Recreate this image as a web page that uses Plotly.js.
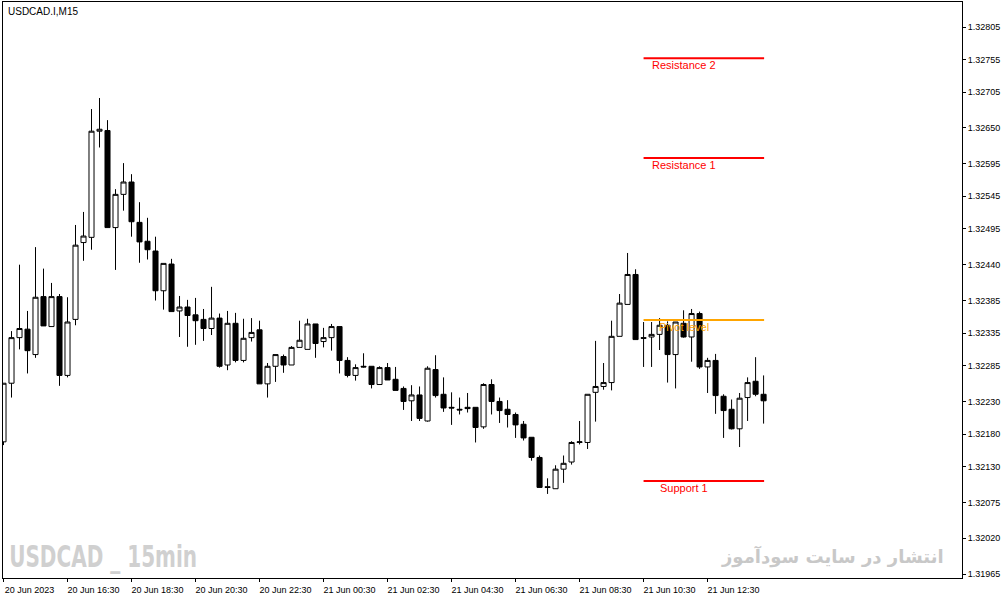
<!DOCTYPE html>
<html><head><meta charset="utf-8">
<script src="https://cdn.plot.ly/plotly-3.0.1.min.js"></script>
<style>html,body{margin:0;padding:0;background:#fff;}#chart{width:1007px;height:599px;}</style>
</head><body><div id="chart"></div>
<script>
const times = [
'2023-06-20 14:30','2023-06-20 14:45','2023-06-20 15:00','2023-06-20 15:15','2023-06-20 15:30','2023-06-20 15:45',
'2023-06-20 16:00','2023-06-20 16:15','2023-06-20 16:30','2023-06-20 16:45','2023-06-20 17:00','2023-06-20 17:15',
'2023-06-20 17:30','2023-06-20 17:45','2023-06-20 18:00','2023-06-20 18:15','2023-06-20 18:30','2023-06-20 18:45',
'2023-06-20 19:00','2023-06-20 19:15','2023-06-20 19:30','2023-06-20 19:45','2023-06-20 20:00','2023-06-20 20:15',
'2023-06-20 20:30','2023-06-20 20:45','2023-06-20 21:00','2023-06-20 21:15','2023-06-20 21:30','2023-06-20 21:45',
'2023-06-20 22:00','2023-06-20 22:15','2023-06-20 22:30','2023-06-20 22:45','2023-06-20 23:00','2023-06-20 23:15',
'2023-06-20 23:30','2023-06-20 23:45','2023-06-21 00:00','2023-06-21 00:15','2023-06-21 00:30','2023-06-21 00:45',
'2023-06-21 01:00','2023-06-21 01:15','2023-06-21 01:30','2023-06-21 01:45','2023-06-21 02:00','2023-06-21 02:15',
'2023-06-21 02:30','2023-06-21 02:45','2023-06-21 03:00','2023-06-21 03:15','2023-06-21 03:30','2023-06-21 03:45',
'2023-06-21 04:00','2023-06-21 04:15','2023-06-21 04:30','2023-06-21 04:45','2023-06-21 05:00','2023-06-21 05:15',
'2023-06-21 05:30','2023-06-21 05:45','2023-06-21 06:00','2023-06-21 06:15','2023-06-21 06:30','2023-06-21 06:45',
'2023-06-21 07:00','2023-06-21 07:15','2023-06-21 07:30','2023-06-21 07:45','2023-06-21 08:00','2023-06-21 08:15',
'2023-06-21 08:30','2023-06-21 08:45','2023-06-21 09:00','2023-06-21 09:15','2023-06-21 09:30','2023-06-21 09:45',
'2023-06-21 10:00','2023-06-21 10:15','2023-06-21 10:30','2023-06-21 10:45','2023-06-21 11:00','2023-06-21 11:15',
'2023-06-21 11:30','2023-06-21 11:45','2023-06-21 12:00','2023-06-21 12:15','2023-06-21 12:30','2023-06-21 12:45',
'2023-06-21 13:00','2023-06-21 13:15','2023-06-21 13:30','2023-06-21 13:45','2023-06-21 14:00','2023-06-21 14:15'
];
const openP = [
1.32168,1.32258,1.32328,1.32341,1.32302,1.32391,1.32345,1.32391,1.32270,1.32356,
1.32474,1.32482,1.32645,1.32646,1.32497,1.32548,1.32567,1.32505,1.32476,1.32461,
1.32400,1.32441,1.32369,1.32375,1.32363,1.32356,1.32342,1.32358,1.32286,1.32350,
1.32293,1.32328,1.32340,1.32257,1.32284,1.32299,1.32286,1.32313,1.32310,1.32349,
1.32322,1.32328,1.32345,1.32293,1.32270,1.32284,1.32284,1.32256,1.32282,1.32264,
1.32250,1.32231,1.32240,1.32200,1.32279,1.32241,1.32221,1.32218,1.32221,1.32221,
1.32191,1.32256,1.32230,1.32218,1.32210,1.32195,1.32175,1.32144,1.32099,1.32096,
1.32126,1.32137,1.32167,1.32167,1.32244,1.32253,1.32259,1.32330,1.32379,1.32425,
1.32328,1.32329,1.32333,1.32347,1.32302,1.32350,1.32329,1.32365,1.32283,1.32293,
1.32238,1.32218,1.32188,1.32236,1.32261,1.32241
];
const highP = [
1.32258,1.32338,1.32440,1.32369,1.32467,1.32434,1.32412,1.32395,1.32390,1.32501,
1.32521,1.32679,1.32696,1.32662,1.32556,1.32596,1.32579,1.32536,1.32512,1.32483,
1.32442,1.32449,1.32392,1.32386,1.32389,1.32372,1.32406,1.32365,1.32369,1.32366,
1.32357,1.32358,1.32354,1.32289,1.32302,1.32302,1.32315,1.32354,1.32357,1.32349,
1.32343,1.32349,1.32345,1.32298,1.32287,1.32304,1.32284,1.32284,1.32289,1.32283,
1.32253,1.32255,1.32253,1.32284,1.32301,1.32267,1.32244,1.32236,1.32243,1.32221,
1.32258,1.32264,1.32236,1.32232,1.32213,1.32200,1.32175,1.32147,1.32112,1.32132,
1.32147,1.32169,1.32200,1.32241,1.32323,1.32289,1.32354,1.32395,1.32458,1.32433,
1.32352,1.32352,1.32358,1.32353,1.32352,1.32370,1.32372,1.32368,1.32297,1.32303,
1.32241,1.32233,1.32243,1.32267,1.32298,1.32270
];
const lowP = [
1.32163,1.32236,1.32310,1.32273,1.32297,1.32346,1.32345,1.32254,1.32267,1.32347,
1.32446,1.32463,1.32620,1.32497,1.32432,1.32523,1.32483,1.32443,1.32448,1.32385,
1.32371,1.32368,1.32329,1.32314,1.32317,1.32323,1.32332,1.32282,1.32278,1.32290,
1.32290,1.32322,1.32257,1.32236,1.32260,1.32274,1.32286,1.32313,1.32310,1.32297,
1.32313,1.32308,1.32273,1.32267,1.32262,1.32282,1.32250,1.32256,1.32263,1.32247,
1.32217,1.32200,1.32200,1.32199,1.32236,1.32214,1.32194,1.32210,1.32213,1.32167,
1.32188,1.32210,1.32197,1.32190,1.32174,1.32170,1.32139,1.32098,1.32088,1.32096,
1.32105,1.32133,1.32164,1.32157,1.32199,1.32248,1.32247,1.32330,1.32379,1.32325,
1.32283,1.32283,1.32309,1.32259,1.32250,1.32328,1.32291,1.32280,1.32243,1.32211,
1.32174,1.32187,1.32160,1.32200,1.32238,1.32196
];
const closeP = [
1.32258,1.32328,1.32342,1.32308,1.32390,1.32346,1.32391,1.32270,1.32352,1.32470,
1.32484,1.32645,1.32648,1.32497,1.32548,1.32567,1.32506,1.32475,1.32463,1.32400,
1.32442,1.32368,1.32375,1.32362,1.32354,1.32342,1.32358,1.32284,1.32350,1.32293,
1.32327,1.32336,1.32257,1.32284,1.32302,1.32286,1.32313,1.32324,1.32349,1.32319,
1.32328,1.32345,1.32293,1.32270,1.32282,1.32283,1.32256,1.32282,1.32263,1.32247,
1.32230,1.32240,1.32204,1.32281,1.32239,1.32220,1.32220,1.32217,1.32219,1.32190,
1.32256,1.32230,1.32216,1.32210,1.32194,1.32174,1.32144,1.32098,1.32098,1.32126,
1.32135,1.32167,1.32168,1.32241,1.32253,1.32259,1.32330,1.32381,1.32425,1.32325,
1.32327,1.32333,1.32347,1.32302,1.32352,1.32329,1.32365,1.32283,1.32293,1.32239,
1.32216,1.32188,1.32235,1.32259,1.32241,1.32231
];
const levelNames = ['Resistance 2','Resistance 1','Pivot level','Support 1'];
const levelValues = [1.32757,1.32604,1.32355,1.32108];
const levelColors = ['#ff0000','#ff0000','#ffa500','#ff0000'];
const levelStart = '2023-06-21 10:30';
const levelEnd = '2023-06-21 14:16';
const levelLabelAt = '2023-06-21 11:45';
const xTickVals = ['2023-06-20 14:30','2023-06-20 16:30','2023-06-20 18:30','2023-06-20 20:30','2023-06-20 22:30',
  '2023-06-21 00:30','2023-06-21 02:30','2023-06-21 04:30','2023-06-21 06:30','2023-06-21 08:30','2023-06-21 10:30','2023-06-21 12:30'];
const xTickText = ['20 Jun 2023','20 Jun 16:30','20 Jun 18:30','20 Jun 20:30','20 Jun 22:30',
  '21 Jun 00:30','21 Jun 02:30','21 Jun 04:30','21 Jun 06:30','21 Jun 08:30','21 Jun 10:30','21 Jun 12:30'];
const yTickVals = [1.32805,1.32755,1.32705,1.32650,1.32595,1.32545,1.32495,1.32440,1.32385,1.32335,
  1.32285,1.32230,1.32180,1.32130,1.32075,1.32020,1.31965];
const yTickText = ['1.32805','1.32755','1.32705','1.32650','1.32595','1.32545','1.32495','1.32440','1.32385','1.32335',
  '1.32285','1.32230','1.32180','1.32130','1.32075','1.32020','1.31965'];
const chartTitle = 'USDCAD.I,M15';
const watermarkLeft = 'USDCAD _ 15min';
const watermarkRight = 'انتشار در سایت سودآموز';

const xRange = ['2023-06-20 14:29:04','2023-06-21 20:27:00'];
const yRange = [1.319589, 1.328434];
const tickFont = {family:'Tahoma, "Liberation Sans", Arial, sans-serif', size:9, color:'#000'};

const trace = {
  type:'candlestick', x:times, open:openP, high:highP, low:lowP, close:closeP,
  increasing:{line:{color:'#000', width:1}, fillcolor:'#ffffff'},
  decreasing:{line:{color:'#000', width:1}, fillcolor:'#000000'},
  whiskerwidth:0, hoverinfo:'skip', showlegend:false
};

const shapes = levelValues.map((v,i)=>({
  type:'line', xref:'x', yref:'y', x0:levelStart, x1:levelEnd, y0:v, y1:v,
  line:{color:levelColors[i], width:2}, layer:'above'
}));
const annotations = levelValues.map((v,i)=>({
  xref:'x', yref:'y', x:levelLabelAt, y:v, xanchor:'center', yanchor:'top', yshift:1,
  text:levelNames[i], showarrow:false,
  font:{family:'"Liberation Sans", Arial, sans-serif', size:11, color:levelColors[i]}
}));
annotations.push({xref:'paper', yref:'paper', x:0.003, y:0.984, xanchor:'left', yanchor:'middle',
  text:chartTitle, showarrow:false, font:{family:'Tahoma, "Liberation Sans", Arial, sans-serif', size:10, color:'#000'}});
annotations.push({xref:'paper', yref:'paper', x:0.005, y:0.0365, xanchor:'left', yanchor:'middle',
  text:'<b>'+watermarkLeft+'</b>', showarrow:false,
  font:{family:'"Liberation Sans Narrow", "DejaVu Sans Condensed", "Liberation Sans", sans-serif', size:30, color:'#d0d0d0'}});
annotations.push({xref:'paper', yref:'paper', x:0.9835, y:0.0365, xanchor:'right', yanchor:'middle',
  text:'<b>'+watermarkRight+'</b>', showarrow:false,
  font:{family:'"DejaVu Sans", sans-serif', size:18, color:'#c8c8c8'}});

const layout = {
  width:1007, height:599,
  margin:{l:3, r:45, t:2, b:21, pad:0},
  paper_bgcolor:'#fff', plot_bgcolor:'#fff',
  showlegend:false, hovermode:false,
  boxgap:0.3, boxgroupgap:0.1,
  xaxis:{type:'date', range:xRange, rangeslider:{visible:false}, showgrid:false, zeroline:false,
    showline:true, mirror:true, linecolor:'#000', linewidth:1,
    ticks:'outside', ticklen:3, tickcolor:'#000', tickvals:xTickVals, ticktext:xTickText,
    tickfont:tickFont, ticklabelshift:26, automargin:false, fixedrange:true},
  yaxis:{side:'right', range:yRange, showgrid:false, zeroline:false,
    showline:true, mirror:true, linecolor:'#000', linewidth:1,
    ticks:'outside', ticklen:3, tickcolor:'#000', tickvals:yTickVals, ticktext:yTickText,
    tickfont:tickFont, automargin:false, fixedrange:true},
  shapes:shapes, annotations:annotations
};
Plotly.newPlot('chart',[trace],layout,{displayModeBar:false, staticPlot:true}).then(function(gd){
  // narrow the left watermark horizontally to mimic a condensed bold face
  const anns = gd.querySelectorAll('.infolayer .annotation');
  anns.forEach(function(a){
    if (a.textContent === watermarkLeft) {
      const bb = a.getBBox();
      const s = 190 / bb.width;
      if (s < 1) a.setAttribute('transform', 'translate(' + (8 - bb.x * s) + ',0) scale(' + s + ',1)');
    }
  });
});
</script>
</body></html>
